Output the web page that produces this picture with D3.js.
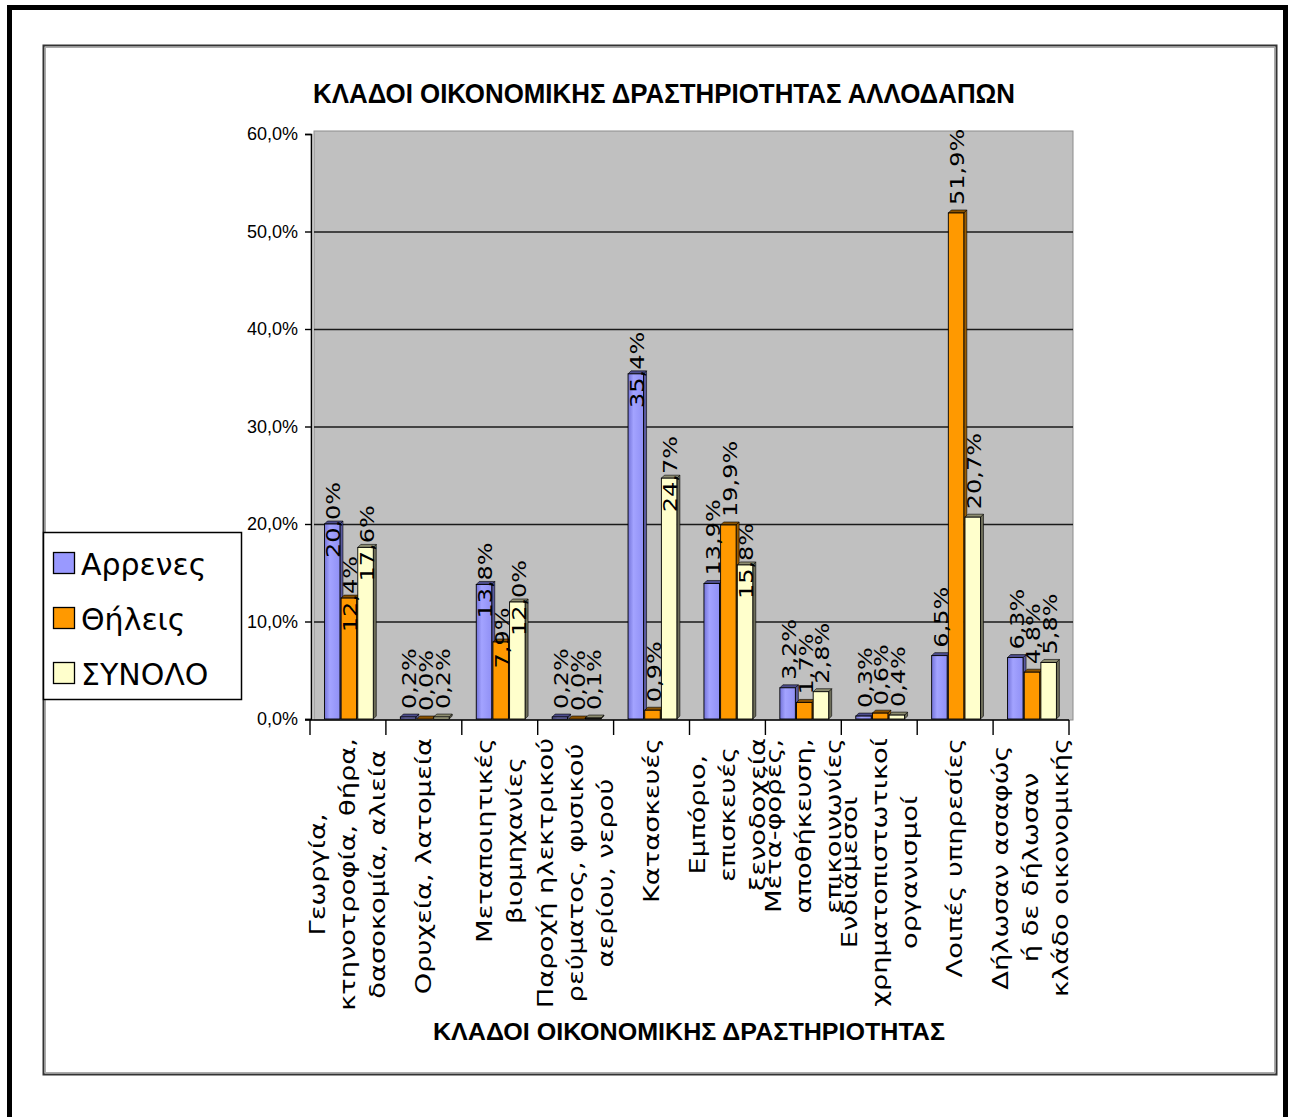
<!DOCTYPE html>
<html>
<head>
<meta charset="utf-8">
<script src="https://cdn.jsdelivr.net/npm/d3@7"></script>
<style>
  html, body { margin: 0; padding: 0; background: #fff; }
  svg { display: block; }
</style>
</head>
<body>
<script>
// Branches of economic activity of foreign residents, by sex (%)
const categoryLines = [
  ["Γεωργία,", "κτηνοτροφία, θήρα,", "δασοκομία, αλιεία"],
  ["Ορυχεία, λατομεία"],
  ["Μεταποιητικές", "βιομηχανίες"],
  ["Παροχή ηλεκτρικού", "ρεύματος, φυσικού", "αερίου, νερού"],
  ["Κατασκευές"],
  ["Εμπόριο,", "επισκευές", "ξενοδοχεία"],
  ["Μετα-φορές,", "αποθήκευση,", "επικοινωνίες"],
  ["Ενδιάμεσοι", "χρηματοπιστωτικοί", "οργανισμοί"],
  ["Λοιπές υπηρεσίες"],
  ["Δήλωσαν ασαφώς", "ή δε δήλωσαν", "κλάδο οικονομικής"]
];
const seriesNames = ["Αρρενες", "Θήλεις", "ΣΥΝΟΛΟ"];
const males   = [20.0, 0.2, 13.8, 0.2, 35.4, 13.9, 3.2, 0.3, 6.5, 6.3];
const females = [12.4, 0.0,  7.9, 0.0,  0.9, 19.9, 1.7, 0.6, 51.9, 4.8];
const totals  = [17.6, 0.2, 12.0, 0.1, 24.7, 15.8, 2.8, 0.4, 20.7, 5.8];
const yTicks  = [0, 10, 20, 30, 40, 50, 60];

// value labels that sit across the top of their bar instead of above it
const labelInside = [
  [true, true, true],
  [false, false, false],
  [true, true, true],
  [false, false, false],
  [true, false, true],
  [false, false, true],
  [false, false, false],
  [false, false, false],
  [false, false, false],
  [false, false, false]
];

const chartTitle = "ΚΛΑΔΟΙ ΟΙΚΟΝΟΜΙΚΗΣ ΔΡΑΣΤΗΡΙΟΤΗΤΑΣ ΑΛΛΟΔΑΠΩΝ";
const xTitle = "ΚΛΑΔΟΙ ΟΙΚΟΝΟΜΙΚΗΣ ΔΡΑΣΤΗΡΙΟΤΗΤΑΣ";

const seriesValues = [males, females, totals];
const fills = ["#9999FF", "#FF9900", "#FFFFCC"];
const tops  = ["#4d4d8c", "#8a5200", "#8c8c70"];
const sides = ["#5a5aa0", "#9a5c00", "#6e6e5a"];

const W = 1293, H = 1117;
const plot = { left: 311, right: 1069, top: 131, bottom: 719, wallRight: 1073 };

const grLocale = d3.formatLocale({ decimal: ",", thousands: ".", grouping: [3], currency: ["", "€"] });
const fmt = grLocale.format(".1f");
const pct = v => fmt(v) + "%";

const svg = d3.select("body").append("svg")
  .attr("width", W).attr("height", H)
  .attr("viewBox", `0 0 ${W} ${H}`);

const defs = svg.append("defs");
const grad = defs.append("linearGradient").attr("id", "blueShade")
  .attr("x1", "0").attr("x2", "1").attr("y1", "0").attr("y2", "0");
grad.append("stop").attr("offset", "0").attr("stop-color", "#7373d9");
grad.append("stop").attr("offset", "0.35").attr("stop-color", "#a3a3ff");
grad.append("stop").attr("offset", "1").attr("stop-color", "#9090f5");

// page frame
svg.append("rect").attr("x", 9.5).attr("y", 7.5).attr("width", 1276).attr("height", 1200)
  .attr("fill", "none").attr("stroke", "#000").attr("stroke-width", 5);
// chart area border
svg.append("rect").attr("x", 43.5).attr("y", 45.5).attr("width", 1233).attr("height", 1029)
  .attr("fill", "#fff").attr("stroke", "#333").attr("stroke-width", 2);
svg.append("rect").attr("x", 45.5).attr("y", 47.5).attr("width", 1229).attr("height", 1025)
  .attr("fill", "none").attr("stroke", "#aaa").attr("stroke-width", 1);

// title
svg.append("text")
  .attr("x", 664).attr("y", 103)
  .attr("text-anchor", "middle")
  .attr("font-family", "Liberation Sans, Arial, sans-serif")
  .attr("font-weight", "bold").attr("font-size", 28)
  .attr("textLength", 702).attr("lengthAdjust", "spacingAndGlyphs")
  .text(chartTitle);

// scales
const y = d3.scaleLinear().domain([0, 60]).range([plot.bottom, 134]);
const idx = d3.range(categoryLines.length);
const x = d3.scaleBand().domain(idx).range([310, 1069]).padding(0);
const groupW = 50;
const xs = d3.scaleBand().domain([0, 1, 2]).range([0, groupW]).padding(0);

// back wall
svg.append("rect")
  .attr("x", 314).attr("y", plot.top)
  .attr("width", plot.wallRight - 314).attr("height", plot.bottom + 1 - plot.top)
  .attr("fill", "#C0C0C0").attr("stroke", "#8c8c8c").attr("stroke-width", 1);

// gridlines
svg.append("g").selectAll("line")
  .data(yTicks.filter(t => t > 0 && t < 60))
  .join("line")
  .attr("x1", 314).attr("x2", plot.wallRight)
  .attr("y1", d => y(d) + 0.5).attr("y2", d => y(d) + 0.5)
  .attr("stroke", "#1a1a1a").attr("stroke-width", 1.6);

// y axis
const yAxis = d3.axisLeft(y).tickValues(yTicks).tickSize(6).tickPadding(7).tickFormat(pct);
const gy = svg.append("g").attr("transform", `translate(${plot.left},0)`).call(yAxis);
gy.select(".domain").attr("stroke", "#000").attr("stroke-width", 1.6);
gy.selectAll(".tick line").attr("stroke", "#000").attr("stroke-width", 1.4);
gy.selectAll(".tick text")
  .attr("font-family", "Liberation Sans, Arial, sans-serif")
  .attr("font-size", 18).attr("fill", "#000");

// bars with a shallow 3D top and side
const gBars = svg.append("g");
const dd = 3;
const barW = 15.5;
const barX = (i, s) => x(i) + (x.bandwidth() - groupW) / 2 + 1.5 + xs(s);
idx.forEach(i => {
  seriesValues.forEach((vals, s) => {
    const v = vals[i];
    const x0 = barX(i, s);
    const yt = y(v);
    const yb = y(0);
    gBars.append("path")
      .attr("d", `M${x0 + barW},${yt} L${x0 + barW + dd},${yt - dd} L${x0 + barW + dd},${yb - dd} L${x0 + barW},${yb} Z`)
      .attr("fill", sides[s]).attr("stroke", "#000").attr("stroke-width", 0.6);
    gBars.append("path")
      .attr("d", `M${x0},${yt} L${x0 + barW},${yt} L${x0 + barW + dd},${yt - dd} L${x0 + dd},${yt - dd} Z`)
      .attr("fill", tops[s]).attr("stroke", "#000").attr("stroke-width", 0.6);
    gBars.append("rect")
      .attr("x", x0).attr("y", yt)
      .attr("width", barW).attr("height", Math.max(0, yb - yt))
      .attr("fill", s === 0 ? "url(#blueShade)" : fills[s])
      .attr("stroke", "#000").attr("stroke-width", 0.9);
  });
});

// x axis
const gx = svg.append("g");
gx.append("line").attr("x1", 305).attr("x2", 1069)
  .attr("y1", 720).attr("y2", 720).attr("stroke", "#000").attr("stroke-width", 1.6);
gx.selectAll("line.tick")
  .data(idx.concat([idx.length]))
  .join("line").attr("class", "tick")
  .attr("x1", d => d < idx.length ? x(d) : x.range()[1])
  .attr("x2", d => d < idx.length ? x(d) : x.range()[1])
  .attr("y1", 720).attr("y2", 735)
  .attr("stroke", "#000").attr("stroke-width", 1.4);

// value labels
const valueStretch = 1.2;
const gVals = svg.append("g")
  .attr("font-family", "DejaVu Sans, Verdana, sans-serif")
  .attr("font-size", 20).attr("fill", "#000");
idx.forEach(i => {
  seriesValues.forEach((vals, s) => {
    const v = vals[i];
    const xc = barX(i, s) + barW / 2 + 1;
    const inside = labelInside[i][s];
    const yy = inside ? y(v) - 4 : y(v) - 8;
    gVals.append("text")
      .attr("transform", `translate(${xc},${yy}) rotate(-90) scale(${valueStretch},1)`)
      .attr("text-anchor", inside ? "middle" : "start")
      .attr("dominant-baseline", "central")
      .text(pct(v));
  });
});

// category labels: rotated, lines centred inside a block hanging from the axis
const labelStretch = 1.3;
const lineGap = 30;
const blockTop = 738;
const gCat = svg.append("g")
  .attr("font-family", "DejaVu Sans, Verdana, sans-serif")
  .attr("font-size", 21).attr("fill", "#000");
idx.forEach(i => {
  const lines = categoryLines[i];
  const n = lines.length;
  const cx = x(i) + x.bandwidth() / 2;
  const nodes = lines.map(ln => gCat.append("text")
    .attr("text-anchor", "middle")
    .attr("dominant-baseline", "central")
    .text(ln));
  const maxLen = d3.max(nodes, t => t.node().getComputedTextLength()) * labelStretch;
  const yc = blockTop + maxLen / 2;
  nodes.forEach((t, j) => {
    const lx = cx + (j - (n - 1) / 2) * lineGap;
    t.attr("transform", `translate(${lx},${yc}) rotate(-90) scale(${labelStretch},1)`);
  });
});

// axis title
svg.append("text")
  .attr("x", 689).attr("y", 1040)
  .attr("text-anchor", "middle")
  .attr("font-family", "Liberation Sans, Arial, sans-serif")
  .attr("font-weight", "bold").attr("font-size", 24)
  .attr("textLength", 512).attr("lengthAdjust", "spacingAndGlyphs")
  .text(xTitle);

// legend
const lg = svg.append("g");
lg.append("rect").attr("x", 43.5).attr("y", 532.5).attr("width", 198).attr("height", 167)
  .attr("fill", "#fff").attr("stroke", "#000").attr("stroke-width", 1.5);
seriesNames.forEach((name, s) => {
  const top = 552 + s * 55;
  lg.append("rect").attr("x", 53.5).attr("y", top + 0.5).attr("width", 21).attr("height", 21)
    .attr("fill", fills[s]).attr("stroke", "#000").attr("stroke-width", 1.3);
  lg.append("text").attr("x", 81).attr("y", top + 23)
    .attr("font-family", "DejaVu Sans, Verdana, sans-serif")
    .attr("font-size", 30).attr("fill", "#000")
    .text(name);
});
</script>
</body>
</html>
